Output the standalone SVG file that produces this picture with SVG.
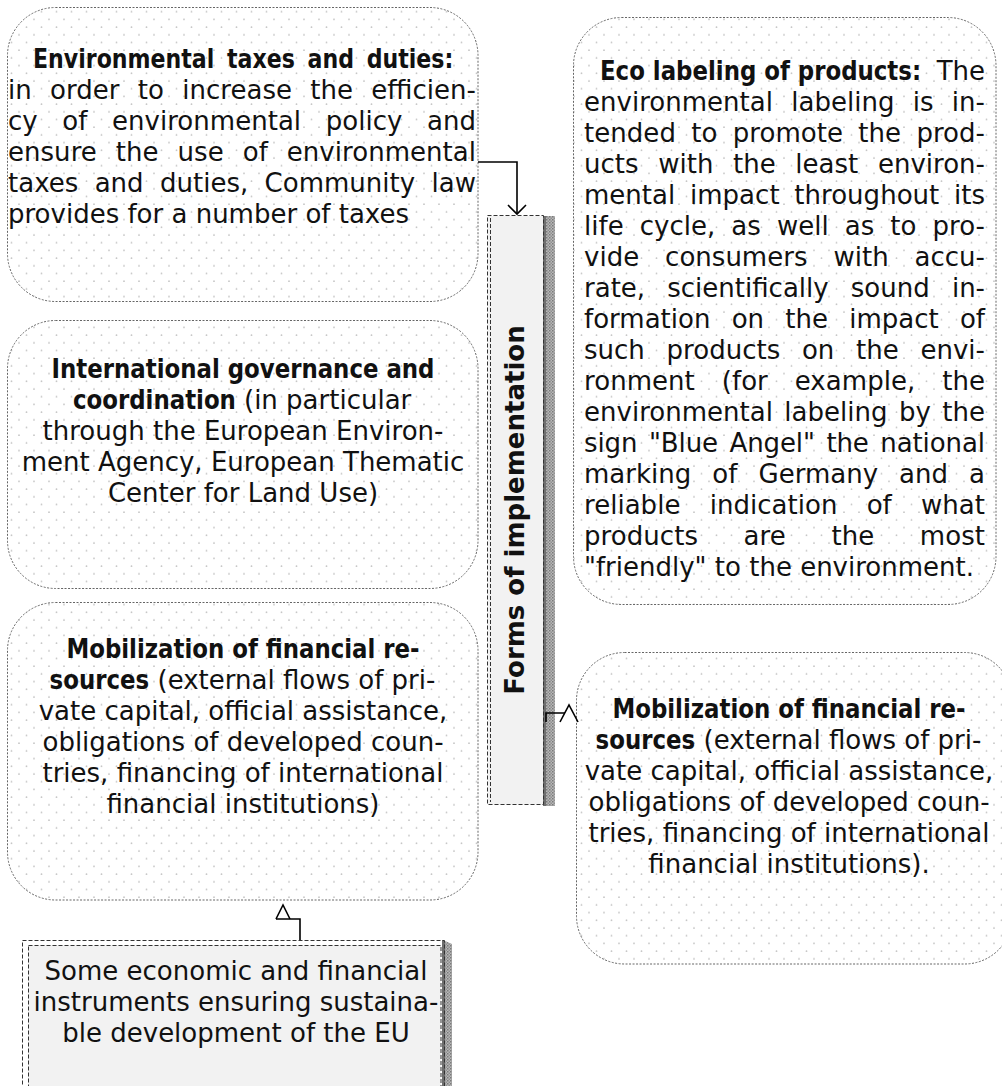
<svg xmlns="http://www.w3.org/2000/svg" width="1002" height="1086" viewBox="0 0 1002 1086">
<defs>
<pattern id="dots" width="15" height="15.4" patternUnits="userSpaceOnUse">
<circle cx="4" cy="4" r="0.9" fill="#c4c4c4"/>
<circle cx="11.5" cy="11.7" r="0.9" fill="#c4c4c4"/>
</pattern>
<pattern id="shade" width="3" height="3" patternUnits="userSpaceOnUse">
<rect width="3" height="3" fill="#b8b8b8"/>
<rect width="1.5" height="1.5" fill="#7a7a7a"/>
<rect x="1.5" y="1.5" width="1.5" height="1.5" fill="#909090"/>
</pattern>
<style>
.box{fill:url(#dots);stroke:#666;stroke-width:1;stroke-dasharray:2 1.5}
.t{font-family:"DejaVu Sans",sans-serif;font-size:26px;fill:#111}
.b{font-weight:bold}
.c{text-anchor:middle}
.e{text-anchor:end}
.bar{fill:#f2f2f2}
.dash{fill:none;stroke:#333;stroke-width:1;stroke-dasharray:4 2}
.sh{fill:url(#shade)}
.shd{fill:#6e6e6e}
.conn{fill:none;stroke:#000;stroke-width:1.6}
</style>
</defs>
<rect width="1002" height="1086" fill="#fff"/>

<g id="env-taxes">
<rect class="box" x="7.5" y="7.5" width="470.5" height="294" rx="48"/>
<text class="t b" transform="translate(33,68) scale(0.85,1)" word-spacing="5.9">Environmental taxes and duties:</text>
<text class="t" x="8" y="99" word-spacing="9.9" textLength="468" lengthAdjust="spacing">in order to increase the efficien-</text>
<text class="t" x="8" y="130" word-spacing="16.3" textLength="468" lengthAdjust="spacing">cy of environmental policy and</text>
<text class="t" x="8" y="161" word-spacing="10.7" textLength="468" lengthAdjust="spacing">ensure the use of environmental</text>
<text class="t" x="8" y="192" word-spacing="8" textLength="468" lengthAdjust="spacing">taxes and duties, Community law</text>
<text class="t" x="8" y="223">provides for a number of taxes</text>
</g>

<g id="intl-governance">
<rect class="box" x="7.5" y="320.5" width="470.5" height="268" rx="48"/>
<text class="t b c" transform="translate(243,378) scale(0.88,1)">International governance and</text>
<text class="t b" transform="translate(73,409) scale(0.88,1)">coordination</text>
<text class="t" x="244" y="409">(in particular</text>
<text class="t c" x="243" y="440">through the European Environ-</text>
<text class="t c" x="243" y="471">ment Agency, European Thematic</text>
<text class="t c" x="243" y="502">Center for Land Use)</text>
</g>

<g id="mobilization-left">
<rect class="box" x="7.5" y="602.5" width="470.5" height="297.5" rx="48"/>
<text class="t b c" transform="translate(243,658) scale(0.88,1)">Mobilization of financial re-</text>
<text class="t b" transform="translate(49.6,689) scale(0.88,1)">sources</text>
<text class="t" x="157.5" y="689">(external flows of pri-</text>
<text class="t c" x="243" y="720">vate capital, official assistance,</text>
<text class="t c" x="243" y="751">obligations of developed coun-</text>
<text class="t c" x="243" y="782">tries, financing of international</text>
<text class="t c" x="243" y="813">financial institutions)</text>
</g>

<g id="forms-of-implementation">
<rect class="bar" x="488" y="216" width="55" height="589"/>
<rect class="shd" x="543" y="216" width="3" height="590"/>
<rect class="sh" x="546" y="216" width="9" height="590"/>
<rect class="dash" x="487.5" y="215.5" width="56" height="589"/>
<path class="dash" d="M490.5,218 V802"/>
<text class="t b c" transform="translate(524,510) rotate(-90)">Forms of implementation</text>
</g>

<g id="eco-labeling">
<rect class="box" x="573.5" y="17.5" width="422.5" height="587" rx="48"/>
<text class="t b" transform="translate(600,80) scale(0.88,1)">Eco labeling of products:</text>
<text class="t e" x="985" y="80">The</text>
<text class="t" x="584" y="111" word-spacing="10" textLength="401" lengthAdjust="spacing">environmental labeling is in-</text>
<text class="t" x="584" y="142" word-spacing="7" textLength="401" lengthAdjust="spacing">tended to promote the prod-</text>
<text class="t" x="584" y="173" word-spacing="11.3" textLength="401" lengthAdjust="spacing">ucts with the least environ-</text>
<text class="t" x="584" y="204" word-spacing="6.4" textLength="401" lengthAdjust="spacing">mental impact throughout its</text>
<text class="t" x="584" y="235" word-spacing="7.8" textLength="401" lengthAdjust="spacing">life cycle, as well as to pro-</text>
<text class="t" x="584" y="266" word-spacing="17.7" textLength="401" lengthAdjust="spacing">vide consumers with accu-</text>
<text class="t" x="584" y="297" word-spacing="13.9" textLength="401" lengthAdjust="spacing">rate, scientifically sound in-</text>
<text class="t" x="584" y="328" word-spacing="12.9" textLength="401" lengthAdjust="spacing">formation on the impact of</text>
<text class="t" x="584" y="359" word-spacing="13.4" textLength="401" lengthAdjust="spacing">such products on the envi-</text>
<text class="t" x="584" y="390" word-spacing="18.6" textLength="401" lengthAdjust="spacing">ronment (for example, the</text>
<text class="t" x="584" y="421" word-spacing="3.1" textLength="401" lengthAdjust="spacing">environmental labeling by the</text>
<text class="t" x="584" y="452" word-spacing="3.4" textLength="401" lengthAdjust="spacing">sign "Blue Angel" the national</text>
<text class="t" x="584" y="483" word-spacing="12.7" textLength="401" lengthAdjust="spacing">marking of Germany and a</text>
<text class="t" x="584" y="514" word-spacing="21" textLength="401" lengthAdjust="spacing">reliable indication of what</text>
<text class="t" x="584" y="545" word-spacing="37.3" textLength="401" lengthAdjust="spacing">products are the most</text>
<text class="t" x="584" y="576">"friendly" to the environment.</text>
</g>

<g id="mobilization-right">
<rect class="box" x="576.5" y="652.5" width="436" height="311.5" rx="48"/>
<text class="t b c" transform="translate(789,718) scale(0.88,1)">Mobilization of financial re-</text>
<text class="t b" transform="translate(595.6,749) scale(0.88,1)">sources</text>
<text class="t" x="703.5" y="749">(external flows of pri-</text>
<text class="t c" x="789" y="780">vate capital, official assistance,</text>
<text class="t c" x="789" y="811">obligations of developed coun-</text>
<text class="t c" x="789" y="842">tries, financing of international</text>
<text class="t c" x="789" y="873">financial institutions).</text>
</g>

<g id="instruments">
<rect class="bar" x="28" y="945" width="413" height="141"/>
<polygon class="shd" points="442,940 445,941 445,1086 442,1086"/>
<polygon class="sh" points="445,941 452,944 452,1086 445,1086"/>
<rect class="dash" x="22.5" y="940.5" width="422" height="160"/>
<rect class="dash" x="28.5" y="945.5" width="412.5" height="160"/>
<text class="t c" x="236" y="980">Some economic and financial</text>
<text class="t c" x="236" y="1011">instruments ensuring sustaina-</text>
<text class="t c" x="236" y="1042">ble development of the EU</text>
</g>

<g id="connectors">
<path class="conn" d="M478,162 H517 V213"/>
<path class="conn" d="M508,205 L517,214 L526,205"/>
<path class="conn" d="M546,722 V713 H565"/>
<path class="conn" d="M560,722 L569,705 L578,722"/>
<path class="conn" d="M300,940 V919 H276"/>
<path class="conn" d="M276,919 L283,905 L290,919"/>
</g>
</svg>
